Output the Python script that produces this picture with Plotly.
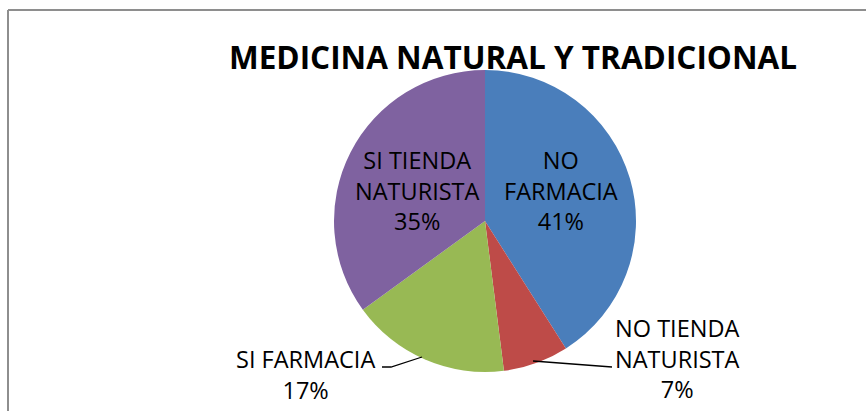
import plotly.graph_objects as go

# ---- data ----
categories = ["NO FARMACIA", "NO TIENDA NATURISTA", "SI FARMACIA", "SI TIENDA NATURISTA"]
values = [41, 7, 17, 35]
label_lines = ["NO<br>FARMACIA", "NO TIENDA<br>NATURISTA", "SI FARMACIA", "SI TIENDA<br>NATURISTA"]
title_text = "MEDICINA NATURAL Y TRADICIONAL"

# ---- styles / layout ----
colors = ["#4A7EBB", "#BE4B48", "#98B954", "#7F62A0"]
W, H = 866, 411
pie_left, pie_right, pie_top, pie_bottom = 332, 638, 70, 372

def px(x):
    return x / W

def py(y):
    return 1 - y / H

fig = go.Figure(go.Pie(
    labels=categories,
    values=values,
    sort=False,
    direction="clockwise",
    rotation=0,
    marker=dict(colors=colors, line=dict(width=0)),
    textinfo="none",
    hoverinfo="label+percent",
    domain=dict(x=[px(pie_left), px(pie_right)], y=[py(pie_bottom), py(pie_top)]),
    showlegend=False,
))

label_font = dict(family="Open Sans, Lato, sans-serif", size=23.5, color="#000000")
# label anchor positions (pixel centres) for each category
label_pos = [(561, 190), (677, 358), (305, 374), (417, 190)]
annotations = []
total = sum(values)
for cat, lab, v, (lx, ly) in zip(categories, label_lines, values, label_pos):
    annotations.append(dict(
        x=px(lx), y=py(ly), xref="paper", yref="paper",
        text=f"{lab}<br>{round(100 * v / total)}%",
        showarrow=False, font=label_font, align="center",
        xanchor="center", yanchor="middle",
    ))

annotations.append(dict(
    x=px(513), y=py(56), xref="paper", yref="paper", text=f"<b>{title_text}</b>",
    showarrow=False, xanchor="center", yanchor="middle",
    font=dict(family="Open Sans, sans-serif", size=31.5, color="#000000"),
))

line_style = dict(color="#000000", width=1.3)
shapes = [
    # chart frame (top and left edges visible)
    dict(type="line", xref="paper", yref="paper", x0=px(8), y0=py(411), x1=px(8), y1=py(10),
         line=dict(color="#8E8E8E", width=2)),
    dict(type="line", xref="paper", yref="paper", x0=px(8), y0=py(10), x1=px(866), y1=py(10),
         line=dict(color="#8E8E8E", width=2)),
    # leader lines
    dict(type="path", xref="paper", yref="paper",
         path=f"M {px(382)} {py(367)} L {px(391)} {py(367)} L {px(422)} {py(357)}",
         line=line_style),
    dict(type="path", xref="paper", yref="paper",
         path=f"M {px(533)} {py(361)} L {px(612)} {py(367)}",
         line=line_style),
]

fig.update_layout(
    width=W, height=H,
    margin=dict(l=0, r=0, t=0, b=0),
    paper_bgcolor="#FFFFFF", plot_bgcolor="#FFFFFF",
    annotations=annotations, shapes=shapes,
)

fig.write_html("out.html", config={"displayModeBar": False},
               post_script="document.body.style.margin='0';")
